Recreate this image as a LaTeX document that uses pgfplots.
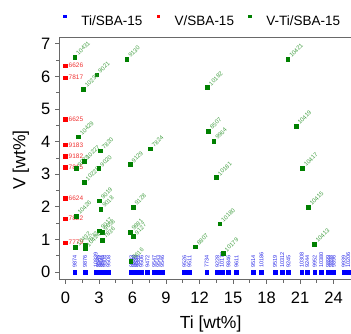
\documentclass[border=0pt]{standalone}
\usepackage{pgfplots}
\pgfplotsset{compat=1.18}
\usepackage{fontspec}
\setmainfont{Liberation Sans}
\definecolor{tiblue}{RGB}{0,0,255}
\definecolor{vred}{RGB}{255,0,0}
\definecolor{vtigreen}{RGB}{0,128,0}
\definecolor{lblgreen}{RGB}{70,160,70}
\definecolor{lblblue}{RGB}{40,40,230}
\definecolor{lblred}{RGB}{240,50,50}
\definecolor{axgray}{RGB}{105,105,105}
\pgfplotstableread{
x y lab
0.82 0 9874
1.75 0 9876
2.70 0 10839
2.90 0 9545
3.10 0 9897
3.30 0 9548
3.50 0 9504
3.85 0 9508
5.90 0 9533
6.10 0 9880
6.30 0 9532
6.50 0 9882
6.80 0 9506
7.35 0 9472
7.95 0 9547
8.30 0 9543
8.65 0 9546
10.65 0 9526
11.10 0 9511
12.64 0 7734
13.60 0 9228
14.00 0 10178
14.60 0 9846
15.30 0 9611
16.80 0 9514
17.55 0 10186
18.75 0 9519
19.40 0 10312
19.95 0 9245
21.15 0 10308
21.65 0 9244
22.30 0 9952
22.90 0 10380
23.50 0 9899
23.75 0 9898
24.00 0 9896
24.90 0 9939
25.30 0 10206
}\tidata
\pgfplotstableread{
x y lab
0 6.33 6626
0 5.96 7817
0 4.68 6625
0 3.90 9183
0 3.56 9182
0 3.21 7815
0 2.27 6624
0 1.64 7822
0 0.90 7779
}\vdata
\pgfplotstableread{
x y lab
0.82 6.60 10431
5.48 6.53 9130
2.79 6.05 9021
1.59 5.61 10230
1.15 4.15 10429
0.94 3.18 9023
1.68 3.41 10227
3.12 3.72 7820
1.66 2.75 10228
2.97 3.18 9020
5.77 3.30 9129
7.60 3.78 7824
3.03 2.19 9019
3.15 1.93 9018
6.04 2.00 9128
0.94 1.72 10426
3.03 1.27 9017
3.27 1.22 9658
3.27 0.98 7836
5.77 1.23 9881
6.07 1.10 9127
0.88 0.76 10432
1.75 0.84 7832
1.75 0.73 10424
5.83 0.34 8616
12.70 5.67 10182
12.79 4.33 8507
13.27 4.02 9964
13.50 2.90 10181
13.80 1.48 10180
11.62 0.78 8807
14.10 0.57 10179
19.89 6.53 10421
20.63 4.48 10419
21.20 3.19 10417
21.71 1.99 10415
22.25 0.86 10413
}\vtidata
\begin{document}
\begin{tikzpicture}[x=1pt,y=1pt]
\useasboundingbox (0,0) rectangle (351,333);
\begin{axis}[
  at={(59.9pt,53.8pt)}, anchor=south west,
  scale only axis, width=292.7pt, height=241.9pt,
  xmin=-0.5, xmax=25.7, ymin=-0.22, ymax=7.2,
  xtick={0,3,...,24}, ytick={0,...,7},
  minor x tick num=1, minor y tick num=1,
  tick align=outside, xtick pos=bottom, ytick pos=left,
  major tick length=4.5pt, minor tick length=3.5pt,
  axis line style={axgray, line width=1.1pt},
  every tick/.style={axgray, line width=0.8pt},
  tick label style={font=\fontsize{16.5}{16.5}\selectfont},
  xticklabel style={yshift=-5pt},
  yticklabel style={xshift=-1.5pt},
  /pgf/number format/assume math mode=true,
  clip=false,
  xlabel={Ti [wt\%]}, ylabel={V [wt\%]},
  label style={font=\fontsize{17.5}{17.5}\selectfont, inner sep=0pt},
  xlabel style={at={(axis description cs:0.515,-0.185)}, anchor=center},
  ylabel style={at={(axis description cs:-0.133,0.493)}, anchor=center},
  legend columns=3,
  legend cell align=left,
  legend style={at={(axis description cs:0.012,1.0744)}, anchor=west,
    draw=none, fill=none, inner sep=0pt, outer sep=0pt,
    font=\fontsize{13.5}{13.5}\selectfont,
    nodes={inner sep=0pt, draw=none},
    /tikz/every even column/.append style={column sep=14.3pt}},
  legend image code/.code={\path[draw=none,fill=none] (-1.6pt,-0.3pt) rectangle (16.4pt,9.9pt); \fill[#1, draw=none] (-1.6pt,3.2pt) rectangle (1.6pt,6.4pt);},
]
\addlegendimage{tiblue}
\addlegendentry{Ti/SBA-15}
\addlegendimage{vred}
\addlegendentry{V/SBA-15}
\addlegendimage{vtigreen}
\addlegendentry{V-Ti/SBA-15}

\addplot[forget plot, only marks, mark=square*, mark size=1.9pt, color=tiblue,
  point meta=explicit symbolic, nodes near coords,
  nodes near coords style={font=\fontsize{5.5}{5.5}\selectfont, color=lblblue, anchor=west, rotate=90, inner sep=0pt, inner xsep=4.5pt}]
  table[x=x, y=y, meta=lab] {\tidata};
\addplot[forget plot, only marks, mark=square*, mark size=1.8pt, color=vred,
  point meta=explicit symbolic, nodes near coords,
  nodes near coords style={font=\fontsize{6.5}{6.5}\selectfont, color=lblred, anchor=west, inner sep=0pt, inner xsep=3pt}]
  table[x=x, y=y, meta=lab] {\vdata};
\addplot[forget plot, only marks, mark=square*, mark size=1.9pt, color=vtigreen,
  point meta=explicit symbolic, nodes near coords,
  nodes near coords style={font=\fontsize{6}{6}\selectfont, color=lblgreen, anchor=west, rotate=45, inner sep=0pt, inner xsep=3.5pt}]
  table[x=x, y=y, meta=lab] {\vtidata};
\end{axis}
\end{tikzpicture}
\end{document}
